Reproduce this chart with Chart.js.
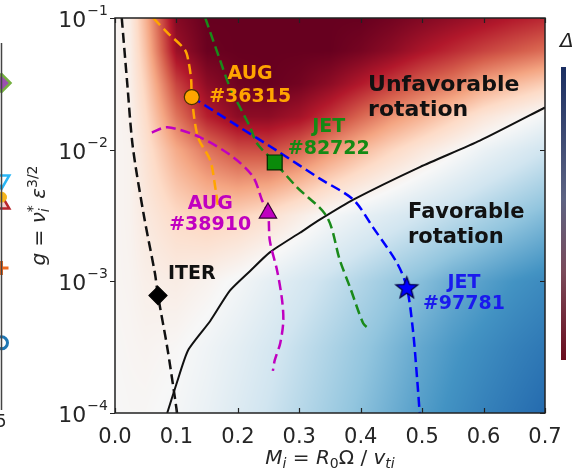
<!DOCTYPE html>
<html>
<head>
<meta charset="utf-8">
<script src="https://cdn.jsdelivr.net/npm/chart.js@4.4.0/dist/chart.umd.min.js"></script>
<style>
  html, body { margin: 0; padding: 0; background: #fff; overflow: hidden; }
  #wrap { position: relative; width: 572px; height: 473px; overflow: hidden; }
  #side { position: absolute; left: -97px; top: 0; }
  #main { position: absolute; left: 0; top: 0; }
</style>
</head>
<body>
<div id="wrap">
  <canvas id="side" width="110" height="473" style="width:110px;height:473px"></canvas>
  <canvas id="main" width="572" height="473" style="width:572px;height:473px"></canvas>
</div>
<script>
// axis ticks
const xTicks = [0, 0.1, 0.2, 0.3, 0.4, 0.5, 0.6, 0.7];
const yTicks = [1e-4, 1e-3, 1e-2, 1e-1];
const yTickExp = ['\u22124', '\u22123', '\u22122', '\u22121'];

// separatrix favorable / unfavorable rotation
const boundaryM = [0.085, 0.1, 0.119, 0.155, 0.187, 0.22, 0.252, 0.301, 0.334, 0.388, 0.497, 0.594, 0.7];
const boundaryG = [1.0e-4, 1.66e-4, 3.0e-4, 5.0e-4, 8.5e-4, 1.2e-3, 1.66e-3, 2.34e-3, 2.95e-3, 4.17e-3, 7.4e-3, 1.17e-2, 2.09e-2];

// trajectories
const iterM = [0.011, 0.02, 0.029, 0.047, 0.065, 0.07, 0.085, 0.098, 0.101];
const iterG = [1e-1, 3.16e-2, 1.05e-2, 3.16e-3, 1.15e-3, 7.8e-4, 3.16e-4, 1.26e-4, 1e-4];

const aug36315M = [0.062, 0.086, 0.114, 0.12, 0.124, 0.125, 0.135, 0.155, 0.164, 0.168];
const aug36315G = [1e-1, 7.69e-2, 5.71e-2, 4.57e-2, 3.39e-2, 2.51e-2, 1.245e-2, 8.3e-3, 4.9e-3, 3.63e-3];

const jet97781M = [0.125, 0.2, 0.264, 0.334, 0.388, 0.42, 0.459, 0.475, 0.485, 0.492, 0.496];
const jet97781G = [2.51e-2, 1.51e-2, 9.8e-3, 6.0e-3, 4.17e-3, 2.57e-3, 1.38e-3, 9.0e-4, 4.27e-4, 1.78e-4, 1e-4];

const jet82722M = [0.147, 0.171, 0.187, 0.22, 0.231, 0.26, 0.296, 0.345, 0.366, 0.383, 0.404, 0.412];
const jet82722G = [1e-1, 4.79e-2, 2.99e-2, 1.48e-2, 1.12e-2, 8.0e-3, 5.2e-3, 3.09e-3, 1.45e-3, 8.9e-4, 4.8e-4, 4.4e-4];

const aug38910M = [0.06, 0.085, 0.138, 0.192, 0.225, 0.239, 0.249, 0.252, 0.264, 0.272, 0.274, 0.269, 0.26, 0.257];
const aug38910G = [1.35e-2, 1.48e-2, 1.245e-2, 8.8e-3, 6.2e-3, 4.17e-3, 3.3e-3, 2.04e-3, 1.2e-3, 7.2e-4, 5.0e-4, 3.39e-4, 2.51e-4, 2.09e-4];

// operating points
const pointM = [0.125, 0.26, 0.249, 0.475, 0.07];
const pointG = [2.51e-2, 8.0e-3, 3.3e-3, 9.0e-4, 7.8e-4];

// background map: -1 favorable (blue) .. +1 unfavorable (red)
const mapM = [0, 0.025, 0.05, 0.1, 0.15, 0.2, 0.25, 0.3, 0.35, 0.4, 0.45, 0.5, 0.55, 0.6, 0.65, 0.7];
const mapG = [1e-1, 5.62e-2, 3.16e-2, 1.78e-2, 1e-2, 3.16e-3, 1e-3, 3.16e-4, 1e-4];
const mapRows = [
  [0.02, 0.08, 0.35, 0.92, 1.0, 1.0, 1.0, 1.0, 1.0, 1.0, 0.97, 0.93, 0.89, 0.85, 0.8, 0.76],
  [0.02, 0.07, 0.3, 0.86, 0.99, 1.0, 1.0, 1.0, 1.0, 0.96, 0.9, 0.82, 0.75, 0.68, 0.62, 0.56],
  [0.02, 0.06, 0.24, 0.68, 0.9, 0.98, 1.0, 0.97, 0.9, 0.8, 0.7, 0.6, 0.52, 0.4, 0.32, 0.25],
  [0.02, 0.05, 0.19, 0.54, 0.78, 0.9, 0.9, 0.84, 0.72, 0.58, 0.45, 0.35, 0.24, 0.13, 0.05, -0.03],
  [0.02, 0.04, 0.15, 0.38, 0.54, 0.65, 0.66, 0.58, 0.45, 0.33, 0.22, 0.12, 0.03, -0.06, -0.13, -0.2],
  [0.02, 0.04, 0.1, 0.2, 0.25, 0.23, 0.17, 0.08, -0.01, -0.08, -0.14, -0.2, -0.26, -0.32, -0.38, -0.44],
  [0.02, 0.03, 0.06, 0.08, 0.04, -0.02, -0.09, -0.16, -0.23, -0.3, -0.37, -0.43, -0.5, -0.55, -0.6, -0.64],
  [0.01, 0.02, 0.03, 0.01, -0.04, -0.1, -0.17, -0.24, -0.31, -0.38, -0.45, -0.52, -0.58, -0.63, -0.68, -0.72],
  [0.0, 0.01, 0.01, -0.02, -0.07, -0.14, -0.21, -0.28, -0.35, -0.42, -0.49, -0.56, -0.62, -0.68, -0.73, -0.78]
];

// neighbouring panel (left), markers on its right edge
const sideY = [0.891, 0.627, 0.580, 0.561, 0.387, 0.183];

const pts = (xs, ys) => xs.map((x, i) => ({ x: x, y: ys[i] }));

const rdbu = ['#053061', '#2166ac', '#4393c3', '#92c5de', '#d1e5f0', '#f7f7f7',
  '#fddbc7', '#f4a582', '#d6604d', '#b2182b', '#67001f'].map(h =>
  [parseInt(h.slice(1, 3), 16), parseInt(h.slice(3, 5), 16), parseInt(h.slice(5, 7), 16)]);

function colorAt(v) {
  const t = Math.max(0, Math.min(1, (v + 1) / 2)) * (rdbu.length - 1);
  const i = Math.min(Math.floor(t), rdbu.length - 2);
  const f = t - i, a = rdbu[i], b = rdbu[i + 1];
  return [a[0] + (b[0] - a[0]) * f, a[1] + (b[1] - a[1]) * f, a[2] + (b[2] - a[2]) * f];
}

function locate(nodes, p) {
  for (let i = 0; i < nodes.length - 1; i++) {
    if (p <= nodes[i + 1] || i === nodes.length - 2) {
      const f = (p - nodes[i]) / (nodes[i + 1] - nodes[i]);
      return [i, Math.max(0, Math.min(1, f))];
    }
  }
}

let heatImg = null;
const heatmap = {
  id: 'heatmap',
  beforeDatasetsDraw(chart) {
    const { ctx, chartArea: a, scales: { x, y } } = chart;
    if (!heatImg) {
      const w = Math.round(a.right - a.left), h = Math.round(a.bottom - a.top);
      const off = document.createElement('canvas');
      off.width = w; off.height = h;
      const octx = off.getContext('2d');
      const img = octx.createImageData(w, h);
      const nx = mapM.map(v => x.getPixelForValue(v) - a.left);
      const ny = mapG.map(v => y.getPixelForValue(v) - a.top);
      const cols = [];
      for (let i = 0; i < w; i++) cols.push(locate(nx, i + 0.5));
      for (let j = 0; j < h; j++) {
        const [r, fy] = locate(ny, j + 0.5);
        for (let i = 0; i < w; i++) {
          const [c, fx] = cols[i];
          const top = mapRows[r][c] * (1 - fx) + mapRows[r][c + 1] * fx;
          const bot = mapRows[r + 1][c] * (1 - fx) + mapRows[r + 1][c + 1] * fx;
          const col = colorAt(top * (1 - fy) + bot * fy);
          const k = (j * w + i) * 4;
          img.data[k] = col[0]; img.data[k + 1] = col[1]; img.data[k + 2] = col[2]; img.data[k + 3] = 255;
        }
      }
      octx.putImageData(img, 0, 0);
      heatImg = off;
    }
    ctx.drawImage(heatImg, a.left, a.top);
  }
};

// text labels, placed in data coordinates
const notes = [
  { lines: ['AUG', '#36315'], m: 0.22, g: 3.18e-2, color: '#ffa500', size: 19, align: 'center', gap: 23 },
  { lines: ['JET', '#82722'], m: 0.348, g: 1.27e-2, color: '#148a14', size: 19, align: 'center', gap: 22 },
  { lines: ['AUG', '#38910'], m: 0.155, g: 3.35e-3, color: '#c000c0', size: 19, align: 'center', gap: 21 },
  { lines: ['ITER'], m: 0.125, g: 1.17e-3, color: '#111', size: 19, align: 'center', gap: 0 },
  { lines: ['JET', '#97781'], m: 0.568, g: 8.4e-4, color: '#1a1aee', size: 19, align: 'center', gap: 21 },
  { lines: ['Unfavorable', 'rotation'], m: 0.412, g: 2.58e-2, color: '#111', size: 22, align: 'left', gap: 25 },
  { lines: ['Favorable', 'rotation'], m: 0.477, g: 2.79e-3, color: '#111', size: 21, align: 'left', gap: 25 }
];

const xTitle = [
  { t: 'M', it: 1 }, { t: 'i', it: 1, sub: 1 }, { t: ' = ' }, { t: 'R', it: 1 }, { t: '0', sub: 1 },
  { t: '\u03a9' }, { t: ' / ' }, { t: 'v', it: 1 }, { t: 'ti', it: 1, sub: 1 }
];
const yTitle = [
  { t: 'g', it: 1 }, { t: ' = ' }, { t: '\u03bd', it: 1 }, { t: 'i', it: 1, sub: 1 }, { t: '*', sup: 1, stack: 1 },
  { t: ' ' }, { t: '\u03b5', it: 1 }, { t: '3/2', sup: 1 }
];

function drawMath(ctx, parts, size, cx, y) {
  const items = [];
  let w = 0, prevX = 0, prevW = 0;
  for (const p of parts) {
    const fs = (p.sub || p.sup) ? size * 0.7 : size;
    const font = (p.it ? 'italic ' : '') + fs + 'px "DejaVu Sans"';
    ctx.font = font;
    const pw = ctx.measureText(p.t).width;
    const px = p.stack ? prevX : w;
    items.push({ t: p.t, font: font, px: px, dy: p.sub ? size * 0.22 : p.sup ? -size * 0.42 : 0 });
    if (p.stack) { w = prevX + Math.max(prevW, pw); } else { prevX = w; prevW = pw; w += pw; }
  }
  const x0 = cx - w / 2;
  ctx.textAlign = 'left';
  ctx.textBaseline = 'alphabetic';
  for (const it of items) { ctx.font = it.font; ctx.fillText(it.t, x0 + it.px, y + it.dy); }
}

const decor = {
  id: 'decor',
  afterDraw(chart) {
    const { ctx, chartArea: a, scales: { x, y } } = chart;
    ctx.save();
    // annotations
    for (const n of notes) {
      const px = x.getPixelForValue(n.m), py = y.getPixelForValue(n.g);
      ctx.font = 'bold ' + n.size + 'px "DejaVu Sans"';
      ctx.fillStyle = n.color;
      ctx.textAlign = n.align;
      ctx.textBaseline = 'alphabetic';
      const y0 = py - n.gap * (n.lines.length - 1) / 2 + n.size * 0.365;
      n.lines.forEach((s, i) => ctx.fillText(s, px, y0 + i * n.gap));
    }
    // frame and ticks
    ctx.strokeStyle = '#222';
    ctx.lineWidth = 1.5;
    ctx.strokeRect(a.left, a.top, a.right - a.left, a.bottom - a.top);
    ctx.lineWidth = 1.2;
    ctx.beginPath();
    for (const v of xTicks) {
      const px = Math.round(x.getPixelForValue(v)) + 0.5;
      ctx.moveTo(px, a.bottom); ctx.lineTo(px, a.bottom - 5);
      ctx.moveTo(px, a.top); ctx.lineTo(px, a.top + 5);
    }
    for (const v of yTicks) {
      const py = Math.round(y.getPixelForValue(v)) + 0.5;
      ctx.moveTo(a.left, py); ctx.lineTo(a.left - 5, py);
      ctx.moveTo(a.right, py); ctx.lineTo(a.right - 5, py);
    }
    ctx.stroke();
    // y tick labels 10^n
    ctx.fillStyle = '#262626';
    ctx.textBaseline = 'alphabetic';
    yTicks.forEach((v, i) => {
      const py = y.getPixelForValue(v);
      const xr = a.left - 7;
      ctx.font = '14px "DejaVu Sans"';
      ctx.textAlign = 'right';
      const sw = ctx.measureText(yTickExp[i]).width;
      ctx.fillText(yTickExp[i], xr, py - 3);
      ctx.font = '22px "DejaVu Sans"';
      ctx.fillText('10', xr - sw - 1, py + 9);
    });
    // axis titles
    ctx.fillStyle = '#262626';
    drawMath(ctx, xTitle, 20, (a.left + a.right) / 2, 464);
    ctx.save();
    ctx.translate(45, (a.top + a.bottom) / 2);
    ctx.rotate(-Math.PI / 2);
    drawMath(ctx, yTitle, 20, 0, 0);
    ctx.restore();
    // edge of the neighbouring colorbar (right)
    const cbx = chart.width - 11;
    const grad = ctx.createLinearGradient(0, 67, 0, 360);
    grad.addColorStop(0, '#1b2f62');
    grad.addColorStop(0.45, '#5d6383');
    grad.addColorStop(0.7, '#7a4a5a');
    grad.addColorStop(1, '#6a0d1e');
    ctx.fillStyle = grad;
    ctx.fillRect(cbx, 67, 5, 293);
    ctx.fillStyle = '#222';
    ctx.font = 'italic 20px "DejaVu Sans"';
    ctx.textAlign = 'left';
    ctx.fillText('\u0394', cbx - 1, 47);
    ctx.restore();
  }
};

function starImage(r, fill, edge) {
  const s = Math.ceil(2 * r + 4);
  const c = document.createElement('canvas');
  c.width = s; c.height = s;
  const g = c.getContext('2d');
  g.translate(s / 2, s / 2 + 1);
  g.beginPath();
  for (let k = 0; k < 10; k++) {
    const rr = k % 2 ? r * 0.42 : r;
    const ang = -Math.PI / 2 + k * Math.PI / 5;
    g.lineTo(rr * Math.cos(ang), rr * Math.sin(ang));
  }
  g.closePath();
  g.fillStyle = fill; g.fill();
  g.lineWidth = 1.2; g.strokeStyle = edge; g.stroke();
  return c;
}

const dash = [10, 5];
const lineSet = (xs, ys, color, extra) => Object.assign({
  data: pts(xs, ys), showLine: true, pointRadius: 0, borderColor: color, borderWidth: 2.5,
  borderDash: dash, tension: 0.3, fill: false, order: 2
}, extra || {});
const markSet = (i, style, radius, fill, edge) => ({
  data: [{ x: pointM[i], y: pointG[i] }], pointStyle: style, pointRadius: radius,
  backgroundColor: fill, borderColor: edge, borderWidth: 1.2, order: 0
});

new Chart(document.getElementById('main'), {
  type: 'scatter',
  data: {
    datasets: [
      lineSet(boundaryM, boundaryG, '#111', { borderDash: [], borderWidth: 2, tension: 0.2, order: 3 }),
      lineSet(iterM, iterG, '#111'),
      lineSet(aug36315M, aug36315G, '#ffa500'),
      lineSet(jet97781M, jet97781G, '#0000ff'),
      lineSet(jet82722M, jet82722G, '#1a8a1a'),
      lineSet(aug38910M, aug38910G, '#c000c0'),
      markSet(0, 'circle', 7.5, '#ffa500', '#4a3000'),
      markSet(1, 'rect', 10.5, '#0a8a0a', '#002800'),
      markSet(2, 'triangle', 10, '#c000c0', '#300030'),
      markSet(3, starImage(11.5, '#0000ff', '#000040'), 11, '#0000ff', '#000040'),
      markSet(4, 'rectRot', 9, '#000', '#000')
    ]
  },
  options: {
    responsive: false,
    animation: false,
    events: [],
    layout: { padding: { top: 18, right: 27, left: 0, bottom: 0 } },
    plugins: { legend: { display: false }, tooltip: { enabled: false } },
    scales: {
      x: {
        type: 'linear', min: 0, max: 0.7,
        afterBuildTicks: s => { s.ticks = xTicks.map(v => ({ value: v })); },
        afterFit: s => { s.height = 60; },
        grid: { display: false }, border: { display: false },
        ticks: {
          font: { family: 'DejaVu Sans', size: 21 }, color: '#262626', padding: 4,
          maxRotation: 0, autoSkip: false, callback: v => v.toFixed(1)
        }
      },
      y: {
        type: 'logarithmic', min: 1e-4, max: 1e-1,
        afterBuildTicks: s => { s.ticks = yTicks.map(v => ({ value: v })); },
        afterFit: s => { s.width = 115; },
        grid: { display: false }, border: { display: false },
        ticks: { display: false }
      }
    }
  },
  plugins: [heatmap, decor]
});

// left neighbouring panel: only its right edge is in view
const sideFrame = {
  id: 'sideFrame',
  afterDraw(chart) {
    const { ctx, chartArea: a } = chart;
    ctx.save();
    ctx.strokeStyle = '#444';
    ctx.lineWidth = 1.5;
    ctx.beginPath();
    ctx.moveTo(a.right, a.top); ctx.lineTo(a.right, a.bottom);
    ctx.stroke();
    ctx.fillStyle = '#262626';
    ctx.font = '17px "DejaVu Sans"';
    ctx.textAlign = 'right';
    ctx.fillText('5', a.right + 5, a.bottom + 17);
    ctx.restore();
  }
};
const sideStyle = [
  { pointStyle: 'rectRot', pointRadius: 9, backgroundColor: '#9b4fb0', borderColor: '#76b041', borderWidth: 2.5 },
  { pointStyle: 'triangle', rotation: 180, pointRadius: 9, backgroundColor: '#ffffff', borderColor: '#29b6f6', borderWidth: 2.5 },
  { pointStyle: 'circle', pointRadius: 5, backgroundColor: '#f5b41a', borderColor: '#f5b41a', borderWidth: 1 },
  { pointStyle: 'triangle', pointRadius: 9, backgroundColor: '#f6d0cc', borderColor: '#b8262b', borderWidth: 2.5 },
  { pointStyle: 'cross', pointRadius: 7, backgroundColor: '#f06a1f', borderColor: '#f06a1f', borderWidth: 3 },
  { pointStyle: 'circle', pointRadius: 6, backgroundColor: '#ffffff', borderColor: '#1f77b4', borderWidth: 3 }
];
new Chart(document.getElementById('side'), {
  type: 'scatter',
  data: { datasets: sideY.map((v, i) => Object.assign({ data: [{ x: 1, y: v }], clip: false }, sideStyle[i])) },
  options: {
    responsive: false, animation: false, events: [],
    layout: { padding: { top: 43, bottom: 63, left: 0, right: 11 } },
    plugins: { legend: { display: false }, tooltip: { enabled: false } },
    scales: { x: { display: false, min: 0, max: 1 }, y: { display: false, min: 0, max: 1 } }
  },
  plugins: [sideFrame]
});
</script>
</body>
</html>
